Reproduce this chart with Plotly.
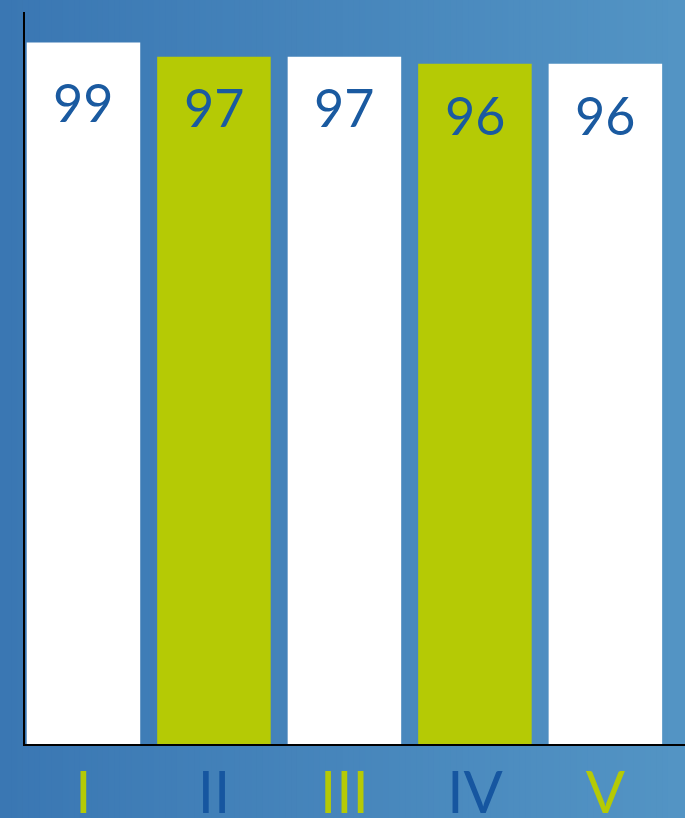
import plotly.graph_objects as go

categories = ["I", "II", "III", "IV", "V"]
values = [99, 97, 97, 96, 96]
bar_colors = ["#ffffff", "#b5ca05", "#ffffff", "#b5ca05", "#ffffff"]
tick_colors = ["#b5ca05", "#1656a0", "#b5ca05", "#1656a0", "#b5ca05"]
label_shifts = [-27, -17, -17, -18, -18]  # label offset below bar top, px

W, H = 685, 818
ml, mr, mt, mb = 25, 0, 12, 74
pw, ph = W - ml - mr, H - mt - mb

fig = go.Figure()
fig.add_trace(go.Bar(
    x=list(range(len(categories))), y=values,
    marker=dict(color=bar_colors, line=dict(width=0)),
    hoverinfo="skip",
))

for i, v in enumerate(values):
    fig.add_annotation(x=i, y=v, text=str(v), showarrow=False,
                       yanchor="top", yshift=label_shifts[i],
                       font=dict(family="Lato, Open Sans, sans-serif", size=52, color="#1a5aa0"))

# gradient background
n = 120
c0 = (0x3a, 0x77, 0xb3)
c1 = (0x53, 0x94, 0xc4)
x0p = -ml / pw
x1p = 1 + mr / pw
shapes = []
for k in range(n):
    t = k / (n - 1)
    col = "rgb(%d,%d,%d)" % tuple(round(c0[j] + (c1[j] - c0[j]) * t) for j in range(3))
    xa = x0p + (x1p - x0p) * k / n
    xb = x0p + (x1p - x0p) * (k + 1) / n + 0.002
    shapes.append(dict(type="rect", xref="paper", yref="paper", x0=xa, x1=xb,
                       y0=-mb / ph - 0.01, y1=1 + mt / ph + 0.01, fillcolor=col,
                       line=dict(width=0), layer="below"))

fig.update_layout(
    width=W, height=H,
    margin=dict(l=ml, r=mr, t=mt, b=mb, autoexpand=False),
    paper_bgcolor="#4585bc", plot_bgcolor="rgba(0,0,0,0)",
    shapes=shapes,
    bargap=0.13,
    showlegend=False,
    xaxis=dict(range=[-0.448, 4.61], tickvals=list(range(len(categories))),
               ticktext=['<span style="color:%s">%s</span>' % (c, t) for c, t in zip(tick_colors, categories)],
               tickfont=dict(family="Lato, Open Sans, sans-serif", size=58),
               showline=True, linecolor="#000000", linewidth=2, showgrid=False,
               zeroline=False, ticks="", ticklabelstandoff=-3, automargin=False,
               fixedrange=True),
    yaxis=dict(range=[0, 103.3], showline=True, linecolor="#000000", linewidth=2,
               showgrid=False, zeroline=False, showticklabels=False, ticks="",
               automargin=False, fixedrange=True),
)

fig.write_html("out.html", config={"displayModeBar": False},
               post_script="document.body.style.margin='0';document.body.style.overflow='hidden';")
